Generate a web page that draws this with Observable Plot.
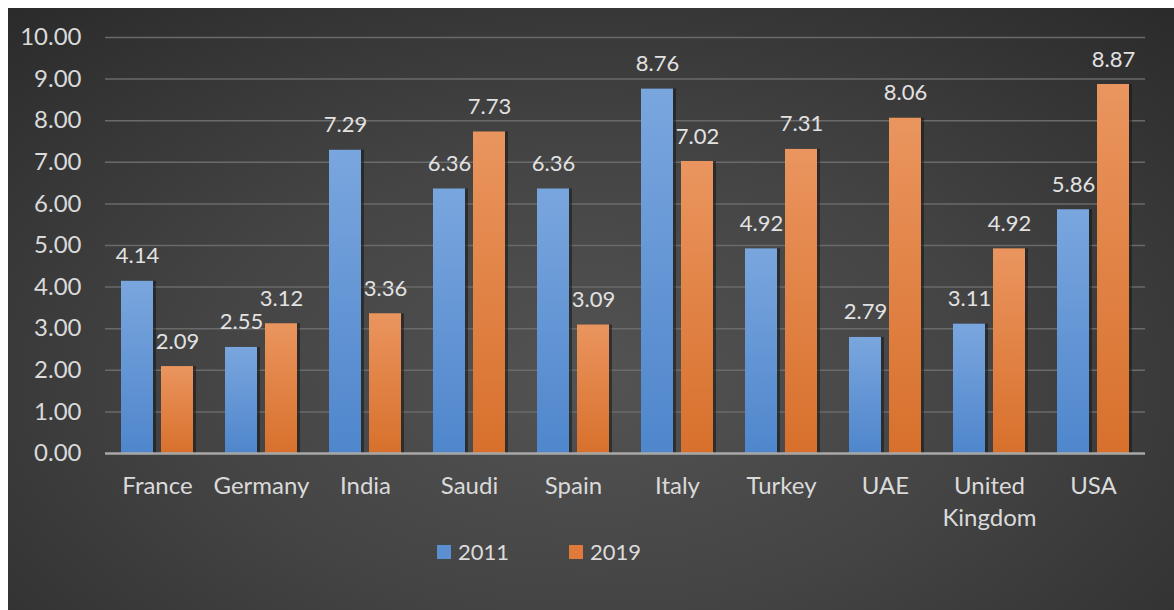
<!DOCTYPE html>
<html><head><meta charset="utf-8">
<script src="https://cdn.jsdelivr.net/npm/d3@7"></script>
<script src="https://cdn.jsdelivr.net/npm/@observablehq/plot@0.6"></script>
<style>
html,body{margin:0;padding:0;background:#fff;width:1174px;height:610px;overflow:hidden;}
#panel{position:absolute;left:8px;top:8px;width:1166px;height:602px;
  background:radial-gradient(ellipse 75% 85% at 50% 62%, #535353 0%, #444 45%, #2a2a2a 100%);
  font-family:Lato, "Open Sans", sans-serif;}
#chart svg{display:block;}
#legend{position:absolute;left:429px;top:530px;display:flex;align-items:center;color:#dcdcdc;font-size:22px;font-family:Lato,"Open Sans",sans-serif;}
.item{display:flex;align-items:center;margin-right:60px;}
.sw{width:14px;height:14px;margin-right:7px;}
</style>
</head><body>
<div id="panel"><div id="chart"></div><div id="legend"></div></div>
<script>
const countries = ["France","Germany","India","Saudi","Spain","Italy","Turkey","UAE","United Kingdom","USA"];
const years = ["2011","2019"];
const values2011 = [4.14,2.55,7.29,6.36,6.36,8.76,4.92,2.79,3.11,5.86];
const values2019 = [2.09,3.12,3.36,7.73,3.09,7.02,7.31,8.06,4.92,8.87];
const yTicks = [0,1,2,3,4,5,6,7,8,9,10];
const seriesColors = {"2011":"#5b8fd2","2019":"#e07a3a"};

const data = countries.flatMap((c,i)=>[
  {country:c, year:"2011", value:values2011[i]},
  {country:c, year:"2019", value:values2019[i]}
]);
const d11 = data.filter(d=>d.year==="2011");
const d19 = data.filter(d=>d.year==="2019");

const svg = Plot.plot({
  width:1166, height:530,
  marginLeft:96, marginRight:29, marginTop:29, marginBottom:85,
  style:{background:"transparent", color:"#d9d9d9", fontFamily:"Lato, 'Open Sans', sans-serif", fontSize:"20px"},
  fx:{domain:countries, padding:0, label:null, axis:null},
  x:{domain:years, paddingInner:0.2, paddingOuter:0.4, axis:null},
  y:{domain:[0,10], axis:null},
  marks:[
    Plot.gridY(yTicks.filter(t=>t>0), {stroke:"#6a6a6a", strokeOpacity:1, strokeWidth:1.5}),
    Plot.axisY(yTicks, {tickSize:0, tickPadding:24, tickFormat:d3.format(".2f"), fontSize:24, fill:"#dadada", label:null}),
    Plot.axisFx({anchor:"bottom", tickSize:0, tickPadding:18, fontSize:24, lineHeight:1.33, fill:"#dadada", label:null,
      tickFormat:d=>d.replace(" ", "\n")}),
    Plot.barY(data, {fx:"country", x:"year", y:"value", fill:"#161616", fillOpacity:0.55, dx:2, insetLeft:-1, insetRight:-1}),
    Plot.barY(d11, {fx:"country", x:"year", y:"value", fill:"url(#gBlue)"}),
    Plot.barY(d19, {fx:"country", x:"year", y:"value", fill:"url(#gOrange)"}),
    Plot.ruleY([0], {stroke:"#a8a8a8", strokeWidth:2.5}),
    Plot.text(data, {fx:"country", x:"year", y:"value", text:d=>d.value.toFixed(2), dy:-25, lineAnchor:"middle", fill:"#e2e2e2", fontSize:22})
  ]
});

const defs = d3.select(svg).insert("defs", ":first-child");
const g1 = defs.append("linearGradient").attr("id","gBlue").attr("x1",0).attr("y1",0).attr("x2",0).attr("y2",1);
g1.append("stop").attr("offset","0%").attr("stop-color","#7aa6de");
g1.append("stop").attr("offset","100%").attr("stop-color","#4f86cc");
const g2 = defs.append("linearGradient").attr("id","gOrange").attr("x1",0).attr("y1",0).attr("x2",0).attr("y2",1);
g2.append("stop").attr("offset","0%").attr("stop-color","#ea955f");
g2.append("stop").attr("offset","100%").attr("stop-color","#d8702c");

document.getElementById("chart").appendChild(svg);

const legend = d3.select("#legend");
years.forEach(y=>{
  const it = legend.append("div").attr("class","item");
  it.append("div").attr("class","sw").style("background", seriesColors[y]);
  it.append("span").text(y);
});
</script>
</body></html>
